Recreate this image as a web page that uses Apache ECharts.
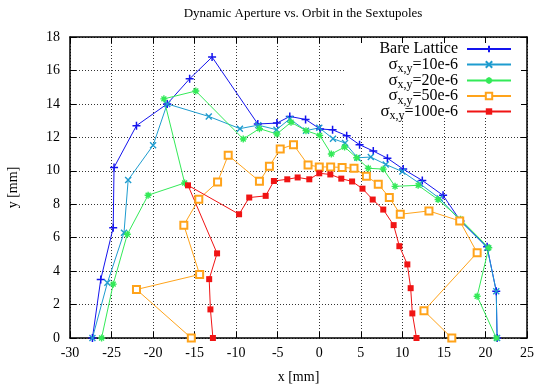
<!DOCTYPE html>
<html>
<head>
<meta charset="utf-8">
<script src="https://cdn.jsdelivr.net/npm/echarts@6/dist/echarts.min.js"></script>
<style>
  html, body { margin: 0; padding: 0; background: #fff; }
  #chart { width: 537px; height: 388px; }
</style>
</head>
<body>
<div id="chart"></div>
<script>
// Dynamic aperture boundaries, [x mm, y mm], traced from negative x round to positive x.
const bareLattice = [
  [-27.3, 0], [-26.3, 3.5], [-24.8, 6.6], [-24.7, 10.2], [-22.0, 12.7], [-18.3, 14.0],
  [-15.6, 15.5], [-12.9, 16.8], [-7.4, 12.8], [-5.1, 12.85], [-3.55, 13.25], [-1.65, 13.07],
  [0.1, 12.5], [1.6, 12.45], [3.3, 12.1], [4.85, 11.56], [6.5, 11.18], [8.2, 10.75],
  [10.1, 10.1], [12.4, 9.42], [14.9, 8.53], [17.0, 7.0], [20.2, 5.45], [21.3, 2.8], [21.4, 0]
];
const sigma10 = [
  [-27.3, 0], [-25.5, 3.3], [-23.5, 6.3], [-23.0, 9.45], [-20.0, 11.52], [-18.3, 14.0],
  [-13.3, 13.25], [-9.55, 12.52], [-7.35, 12.73], [-5.15, 12.46], [-3.55, 13.1], [-1.6, 12.4],
  [0, 12.57], [1.65, 11.92], [3.1, 11.66], [4.6, 10.78], [6.2, 10.82], [8.0, 10.38],
  [10.0, 9.95], [12.1, 9.23], [14.5, 8.34], [17.0, 7.0], [20.2, 5.4], [21.3, 2.8], [21.4, 0]
];
const sigma20 = [
  [-26.2, 0], [-24.8, 3.22], [-23.1, 6.2], [-20.6, 8.54], [-16.2, 9.27], [-18.7, 14.3],
  [-14.86, 14.77], [-9.15, 11.9], [-7.2, 12.52], [-5.1, 12.2], [-3.4, 12.9], [-1.6, 12.4],
  [0.05, 12.12], [1.45, 11.0], [3.05, 11.42], [4.5, 10.78], [5.9, 10.15], [7.7, 10.1],
  [9.12, 9.07], [11.9, 9.13], [14.3, 8.28], [17.0, 7.1], [20.4, 5.4], [19.0, 2.5], [21.3, 0]
];
const sigma50 = [
  [-15.4, 0], [-22.0, 2.9], [-14.4, 3.8], [-16.3, 6.75], [-14.5, 8.3], [-12.24, 9.33],
  [-10.96, 10.93], [-7.2, 9.37], [-6.0, 10.27], [-4.7, 11.3], [-3.1, 11.56], [-1.35, 10.35],
  [0, 10.23], [1.37, 10.23], [2.75, 10.2], [4.18, 10.15], [5.67, 9.67], [7.1, 9.2],
  [8.43, 8.4], [9.75, 7.4], [13.2, 7.6], [16.9, 7.0], [19.0, 5.1], [12.6, 1.63], [15.95, 0]
];
const sigma100 = [
  [-12.8, 0], [-13.1, 1.71], [-13.25, 3.52], [-12.3, 5.06], [-15.8, 9.13], [-9.65, 7.4],
  [-8.43, 8.4], [-6.45, 8.5], [-5.46, 9.39], [-3.85, 9.49], [-2.6, 9.6], [-1.2, 9.49],
  [0, 9.85], [1.33, 9.78], [2.65, 9.53], [3.95, 9.36], [5.2, 8.93], [6.43, 8.28],
  [7.7, 7.68], [8.95, 6.75], [9.64, 5.49], [10.6, 4.4], [11.0, 2.98], [11.2, 1.47], [11.7, 0]
];

const seriesNames = ['Bare Lattice', 'sigma10', 'sigma20', 'sigma50', 'sigma100'];
const sigmaSuffix = { sigma10: '=10e-6', sigma20: '=20e-6', sigma50: '=50e-6', sigma100: '=100e-6' };
const xTicks = { min: -30, max: 25, step: 5 };
const yTicks = { min: 0, max: 18, step: 2 };

const serif = 'Liberation Serif';
const colors = ['#1414ee', '#1e9ccf', '#33ea58', '#ffa31a', '#f01414'];

const SYM_PLUS = 'path://M0,5L10,5M5,0L5,10';
const SYM_CROSS = 'path://M0,0L10,10M10,0L0,10';
const SYM_STAR = 'path://M0,5L10,5M5,0L5,10M1.5,1.5L8.5,8.5M8.5,1.5L1.5,8.5';

const styles = [
  { symbol: SYM_PLUS, size: 8, stroke: 1.5 },
  { symbol: SYM_CROSS, size: 6, stroke: 1.4 },
  { symbol: SYM_STAR, size: 7, stroke: 1.4 },
  { symbol: 'emptyRect', size: 7, stroke: 1.3 },
  { symbol: 'rect', size: 6, stroke: 0 }
];
const datasets = [bareLattice, sigma10, sigma20, sigma50, sigma100];

const series = seriesNames.map((name, i) => ({
  name: name,
  type: 'line',
  data: datasets[i],
  symbol: styles[i].symbol,
  symbolSize: styles[i].size,
  showAllSymbol: true,
  animation: false,
  lineStyle: { color: colors[i], width: 1 },
  itemStyle: {
    color: colors[i],
    borderColor: colors[i],
    borderWidth: styles[i].stroke
  },
  emphasis: { disabled: true }
}));

// One legend block per row, all anchored to the same right edge so the samples line up.
const legendRowTop = [41, 56, 72, 87.5, 103];
const legends = seriesNames.map((name, i) => ({
  data: [name],
  right: 25,
  top: legendRowTop[i],
  padding: 0,
  orient: 'vertical',
  align: 'right',
  itemWidth: 44,
  itemHeight: 8,
  selectedMode: false,
  textStyle: {
    fontFamily: serif,
    fontSize: 16,
    color: '#000',
    padding: [0, 4, 0, 0],
    rich: {
      s: { fontFamily: serif, fontSize: 17, color: '#000' },
      sub: { fontFamily: serif, fontSize: 12, color: '#000', padding: [9, 0, 0, 0] },
      n: { fontFamily: serif, fontSize: 16, color: '#000' }
    }
  },
  formatter: function (n) {
    if (n === 'Bare Lattice') return n;
    return '{s|σ}{sub|x,y}{n|' + sigmaSuffix[n] + '}';
  }
}));

const gridLine = { show: true, lineStyle: { color: '#333', width: 1, type: [1, 2] } };
const frameLine = { show: true, onZero: false, lineStyle: { color: '#000', width: 1.5 } };
const innerTick = { show: true, inside: true, length: 6, lineStyle: { color: '#000', width: 1 } };

const option = {
  animation: false,
  title: {
    text: 'Dynamic Aperture vs. Orbit in the Sextupoles',
    left: 298,
    top: 2,
    textAlign: 'center',
    textStyle: { fontFamily: serif, fontSize: 13, fontWeight: 'normal', color: '#000' }
  },
  grid: { left: 70, right: 10, top: 37, bottom: 50, containLabel: false, outerBoundsMode: 'none' },
  xAxis: [
    {
      type: 'value', min: xTicks.min, max: xTicks.max, interval: xTicks.step,
      name: 'x [mm]', nameLocation: 'middle', nameGap: 32,
      nameTextStyle: { fontFamily: serif, fontSize: 14, color: '#000' },
      axisLine: frameLine, axisTick: innerTick,
      axisLabel: { fontFamily: serif, fontSize: 14, color: '#000', margin: 8 },
      splitLine: gridLine
    },
    {
      type: 'value', position: 'top', min: xTicks.min, max: xTicks.max, interval: xTicks.step,
      axisLine: frameLine, axisTick: innerTick, axisLabel: { show: false }, splitLine: { show: false }
    }
  ],
  yAxis: [
    {
      type: 'value', min: yTicks.min, max: yTicks.max, interval: yTicks.step,
      name: 'y [mm]', nameLocation: 'middle', nameGap: 50, nameRotate: 90,
      nameTextStyle: { fontFamily: serif, fontSize: 14, color: '#000' },
      axisLine: frameLine, axisTick: innerTick,
      axisLabel: { fontFamily: serif, fontSize: 14, color: '#000', margin: 10 },
      splitLine: gridLine
    },
    {
      type: 'value', position: 'right', min: yTicks.min, max: yTicks.max, interval: yTicks.step,
      axisLine: frameLine, axisTick: innerTick, axisLabel: { show: false }, splitLine: { show: false }
    }
  ],
  legend: legends,
  // Opaque key box: hides the grid behind the legend.
  graphic: [{
    type: 'rect', z: 1, silent: true,
    shape: { x: 345, y: 43, width: 176, height: 73 },
    style: { fill: '#fff' }
  }],
  series: series
};

const chart = echarts.init(document.getElementById('chart'), null, { renderer: 'canvas' });
chart.setOption(option);
</script>
</body>
</html>
